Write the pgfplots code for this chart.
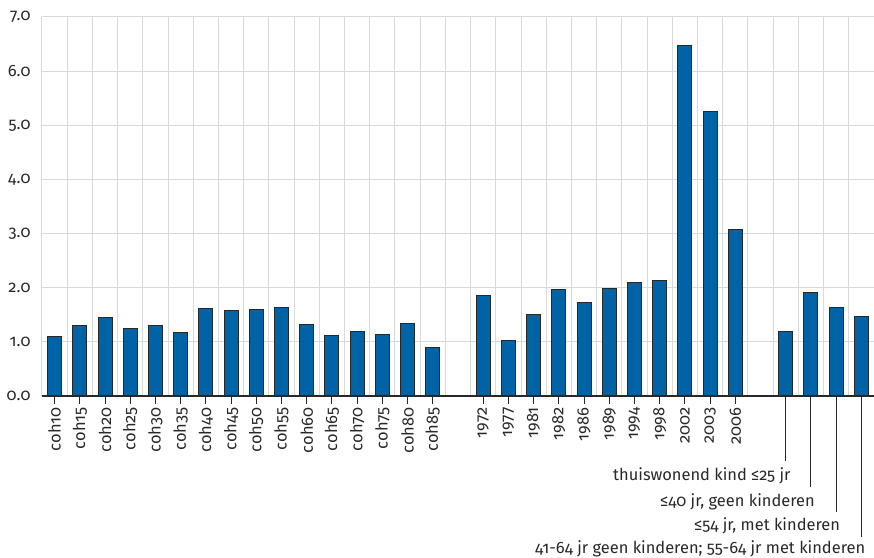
\documentclass[border=0pt]{standalone}
\usepackage{fontspec}
\setmainfont{Fira Sans}[Numbers=OldStyle]
\usepackage{pgfplots}
\pgfplotsset{compat=1.18}
\definecolor{barblue}{RGB}{0,99,166}
\definecolor{gridgray}{RGB}{217,217,217}
\definecolor{ink}{RGB}{40,40,40}
\newcommand{\lblfont}{\fontsize{16.5}{19}\selectfont}

\begin{document}
\begin{tikzpicture}
\begin{axis}[
  scale only axis, width=832bp, height=379bp,
  xmin=-0.5, xmax=32.5, ymin=0, ymax=7,
  ybar, bar width=14bp,
  ytick={0,1,2,3,4,5,6,7},
  yticklabel style={/pgf/number format/.cd, fixed, fixed zerofill, precision=1, assume math mode=true},
  xtick={0,1,2,3,4,5,6,7,8,9,10,11,12,13,14,15,17,18,19,20,21,22,23,24,25,26,27,29,30,31,32},
  xticklabels={coh10,coh15,coh20,coh25,coh30,coh35,coh40,coh45,coh50,coh55,coh60,coh65,coh70,coh75,coh80,coh85,
    1972,1977,1981,1982,1986,1989,1994,1998,2002,2003,2006,{},{},{},{}},
  xticklabel style={rotate=90, anchor=east},
  minor xtick={-0.5,0.5,...,32.5},
  xminorgrids=true, ymajorgrids=true, xmajorgrids=false,
  grid style={draw=gridgray, line width=1bp},
  minor grid style={draw=gridgray, line width=1bp},
  axis line style={draw=none},
  tick align=outside, xtick pos=bottom, ytick pos=left,
  major tick length=8bp, minor tick length=0pt,
  xtick style={draw=ink, line width=1bp},
  ytick style={draw=none},
  ticklabel style={font=\lblfont, text=ink},
  clip=false,
]
\addplot[fill=barblue, draw=ink, line width=1bp] coordinates {
  (0,1.10) (1,1.31) (2,1.45) (3,1.25) (4,1.30) (5,1.18) (6,1.62) (7,1.57)
  (8,1.59) (9,1.64) (10,1.32) (11,1.12) (12,1.19) (13,1.13) (14,1.34) (15,0.89)
  (17,1.86) (18,1.02) (19,1.50) (20,1.96) (21,1.72) (22,1.99) (23,2.09) (24,2.14)
  (25,6.47) (26,5.25) (27,3.07)
  (29,1.20) (30,1.92) (31,1.64) (32,1.46)
};
\draw[ink, line width=1.2bp] (rel axis cs:0,0) -- (rel axis cs:1,0);
\coordinate (sw) at (rel axis cs:0,0);
\coordinate (ne) at (rel axis cs:1,1);
\coordinate (c1) at (axis cs:29,0);
\coordinate (c2) at (axis cs:30,0);
\coordinate (c3) at (axis cs:31,0);
\coordinate (c4) at (axis cs:32,0);
\end{axis}
\draw[ink, line width=1bp] (c1) -- ++(0,-65bp) coordinate (e1);
\draw[ink, line width=1bp] (c2) -- ++(0,-91bp) coordinate (e2);
\draw[ink, line width=1bp] (c3) -- ++(0,-116bp) coordinate (e3);
\draw[ink, line width=1bp] (c4) -- ++(0,-141bp) coordinate (e4);
\node[anchor=base east, inner sep=0pt, font=\lblfont, text=ink] at ([xshift=5bp,yshift=-19bp]e1) {thuiswonend kind ≤25 jr};
\node[anchor=base east, inner sep=0pt, font=\lblfont, text=ink] at ([xshift=4bp,yshift=-19bp]e2) {≤40 jr, geen kinderen};
\node[anchor=base east, inner sep=0pt, font=\lblfont, text=ink] at ([xshift=4bp,yshift=-18bp]e3) {≤54 jr, met kinderen};
\node[anchor=base east, inner sep=0pt, font=\lblfont, text=ink] at ([xshift=4bp,yshift=-16bp]e4) {41-64 jr geen kinderen; 55-64 jr met kinderen};
\pgfresetboundingbox
\path ([xshift=-42bp,yshift=-162bp]sw) rectangle ([yshift=17bp]ne);
\end{tikzpicture}
\end{document}
